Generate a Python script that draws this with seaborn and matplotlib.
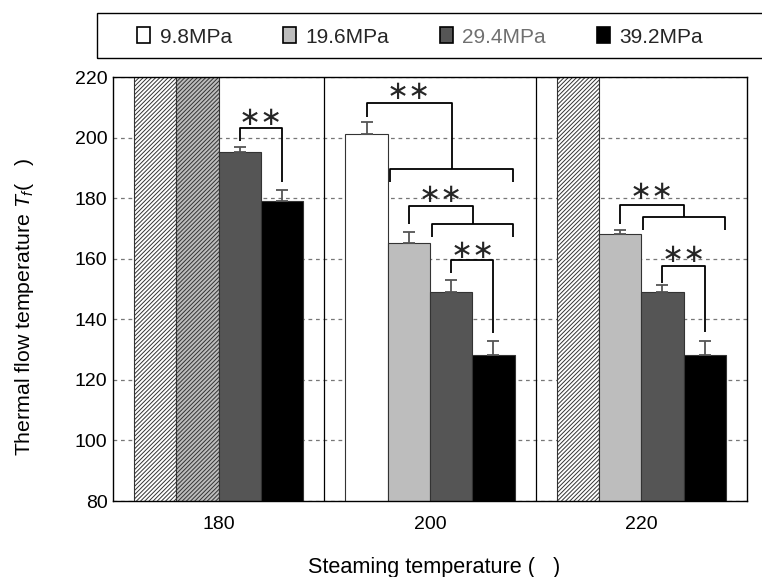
import numpy as np
import pandas as pd
import matplotlib
matplotlib.use("Agg")
import matplotlib.pyplot as plt
from matplotlib.patches import Patch, Rectangle
import seaborn as sns

# ---------------- data ----------------
steam_temps = ["180", "200", "220"]
pressures = ["9.8MPa", "19.6MPa", "29.4MPa", "39.2MPa"]
# thermal flow temperature (None = no flow observed -> hatched full-height bar)
tf_180 = [None, None, 195.2, 179.1]
tf_200 = [201.2, 165.2, 149.0, 128.2]
tf_220 = [None, 168.2, 149.0, 128.1]
sd_180 = [0.0, 0.0, 1.6, 3.5]
sd_200 = [4.0, 3.6, 4.0, 4.6]
sd_220 = [0.0, 1.3, 2.3, 4.8]
bar_colors = ["#ffffff", "#bdbdbd", "#555555", "#000000"]
y_ticks = [80, 100, 120, 140, 160, 180, 200, 220]
Y_MIN, Y_MAX = 80, 220

rows = []
for t, vals, sds in zip(steam_temps, [tf_180, tf_200, tf_220], [sd_180, sd_200, sd_220]):
    for p, v, s in zip(pressures, vals, sds):
        rows.append(dict(steam=t, pressure=p,
                         value=(Y_MAX + 5 if v is None else v),
                         sd=s, noflow=(v is None)))
df = pd.DataFrame(rows)

# significance brackets (y levels in data units)
simple_brackets = [  # (cat idx, hue a, hue b, top, a-leg bottom, b-leg bottom, star y)
    (0, 2, 3, 203.3, 199.0, 185.4, 206.6),
    (1, 2, 3, 159.5, 155.2, 135.4, 162.4),
    (2, 2, 3, 157.7, 151.9, 135.9, 161.3),
]
group_brackets = [  # (cat, hue a, hue from, hue to, top, a-leg bottom, lower level, lower legs bottom, star y)
    (1, 0, 1, 3, 211.5, 206.9, 189.6, 185.4, 214.9),
    (1, 1, 2, 3, 177.5, 171.4, 171.4, 167.1, 181.1),
    (2, 1, 2, 3, 177.8, 171.5, 173.9, 169.5, 182.0),
]

# ---------------- style ----------------
sns.set_theme(style="white")
plt.rcParams["font.family"] = ["Liberation Sans", "DejaVu Sans"]
plt.rcParams["mathtext.fontset"] = "custom"
plt.rcParams["mathtext.rm"] = "Liberation Sans"
plt.rcParams["mathtext.it"] = "Liberation Sans:italic"
plt.rcParams["hatch.linewidth"] = 0.7

fig = plt.figure(figsize=(7.62, 5.77), dpi=100)
ax = fig.add_axes([113 / 762, 1 - 501 / 577, 634 / 762, 424 / 577])

sns.barplot(data=df, x="steam", y="value", hue="pressure", order=steam_temps,
            hue_order=pressures, palette=bar_colors, saturation=1, errorbar=None,
            width=0.8, edgecolor="#333333", linewidth=0.8, legend=False, ax=ax,
            zorder=2)
bar_conts = list(ax.containers)[:len(pressures)]

# hatch + error bars
for h, cont in enumerate(bar_conts):
    for c, patch in enumerate(cont):
        row = df[(df.steam == steam_temps[c]) & (df.pressure == pressures[h])].iloc[0]
        if row.noflow:
            patch.set_hatch("////////")
            patch.set_edgecolor("#333333")
        elif row.sd > 0:
            xc = patch.get_x() + patch.get_width() / 2
            ax.errorbar([xc], [row.value], yerr=[[0], [row.sd]], fmt="none",
                        ecolor="#555555", elinewidth=1.3, capsize=4, capthick=1.3,
                        zorder=3)


def center(cat, hue):
    p = bar_conts[hue][cat]
    return p.get_x() + p.get_width() / 2


def edge_l(cat, hue):
    return bar_conts[hue][cat].get_x()


def edge_r(cat, hue):
    p = bar_conts[hue][cat]
    return p.get_x() + p.get_width()


lk = dict(color="black", lw=1.3, zorder=4, solid_capstyle="butt")
star_kw = dict(ha="center", va="center", fontsize=19, family=["DejaVu Sans"], zorder=5)
for cat, a, b, top, ya, yb, ys in simple_brackets:
    xa, xb = center(cat, a), center(cat, b)
    ax.plot([xa, xa, xb, xb], [ya, top, top, yb], **lk)
    ax.text((xa + xb) / 2, ys, "\u2217\u2217", **star_kw)

for cat, a, hf, ht, top, ya, ymid, ylow, ys in group_brackets:
    xa = center(cat, a)
    xl, xr = edge_l(cat, hf) + 0.01, edge_r(cat, ht) - 0.005
    xm = (xl + xr) / 2
    ax.plot([xa, xa, xm, xm], [ya, top, top, ymid], **lk)
    ax.plot([xl, xl, xr, xr], [ylow, ymid, ymid, ylow], **lk)
    ax.text((xa + xm) / 2, ys, "\u2217\u2217", **star_kw)

# separators between groups
for xs in [0.5, 1.5]:
    ax.axvline(xs, color="black", lw=0.9, zorder=1)

ax.set_xlim(-0.5, 2.5)
ax.set_ylim(Y_MIN, Y_MAX)
ax.set_yticks(y_ticks)
ax.set_axisbelow(True)
ax.yaxis.grid(True, linestyle=(0, (3, 3)), color="#777777", lw=0.9)
ax.xaxis.grid(False)
for s in ax.spines.values():
    s.set_color("black")
    s.set_linewidth(1.0)
ax.tick_params(axis="both", length=0, labelsize=14, colors="black")
ax.tick_params(axis="y", pad=4)
ax.tick_params(axis="x", pad=11)

ax.set_ylabel(r"Thermal flow temperature $T_f$(   )", fontsize=15.3, color="black")
ax.yaxis.set_label_coords(-0.122, 0.4575)
ax.set_xlabel("Steaming temperature (   )", fontsize=15.6, color="black")
ax.xaxis.set_label_coords(0.507, -0.131)

# legend
handles = [Patch(facecolor=c, edgecolor="black", lw=1.2, label=p)
           for c, p in zip(bar_colors, pressures)]
leg = fig.legend(handles=handles, ncol=4, loc="center left",
                 bbox_to_anchor=(127 / 762, 1 - 37 / 577), frameon=False,
                 fontsize=15, handlelength=0.62, handleheight=0.8,
                 handletextpad=0.45, columnspacing=2.45, borderpad=0)
leg.get_texts()[2].set_color("#707070")
fig.patches.append(Rectangle((97 / 762, 1 - 58 / 577), 700 / 762, 45.5 / 577,
                             transform=fig.transFigure, fill=False,
                             edgecolor="black", lw=1.0))

fig.savefig("out.png", dpi=100)
